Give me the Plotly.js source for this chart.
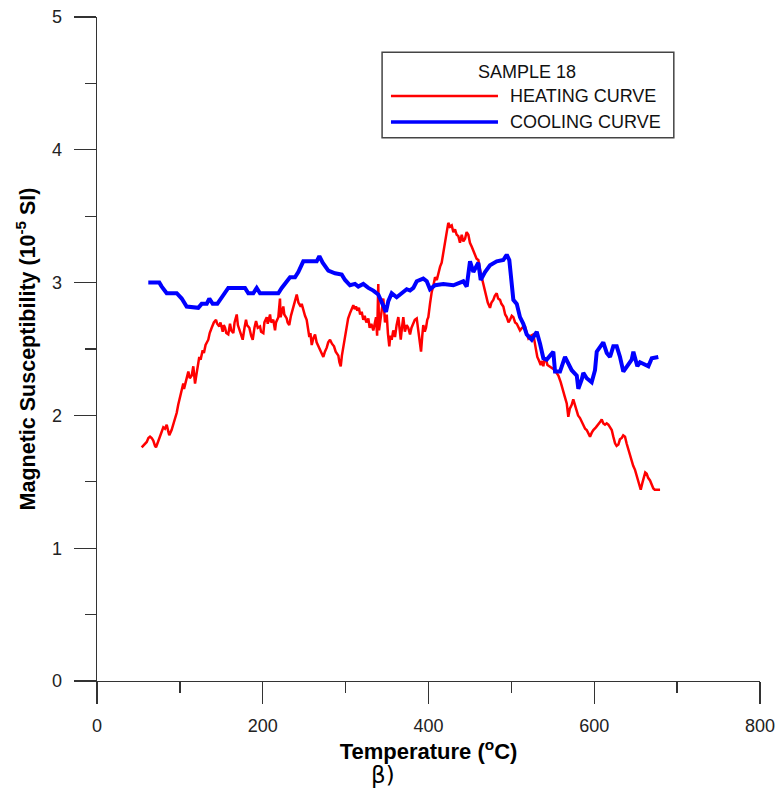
<!DOCTYPE html>
<html>
<head>
<meta charset="utf-8">
<script src="https://cdn.plot.ly/plotly-3.0.1.min.js"></script>
<style>
  html, body { margin: 0; padding: 0; background: #ffffff; }
  #chart { width: 777px; height: 795px; }
</style>
</head>
<body>
<div id="chart"></div>
<script>
// Sample 18: magnetic susceptibility (10^-5 SI) vs temperature (°C)

// Heating curve
const heatT = [
  53.9, 57, 60.0, 62, 64.0, 66, 67.9, 70, 71.2, 73, 76.0, 78, 80.0, 82, 84.1, 86, 87.2, 90, 92.1, 94,
  96.2, 98, 100.2, 102, 104.1, 105, 107.4, 109, 110.2, 112, 114.3, 116.2, 117, 118.3, 120.3, 122, 123.4, 125, 127.5, 129,
  131, 134.3, 136, 138.4, 141, 143.6, 145, 147.6, 149, 151.7, 153, 154.5, 156, 158.4, 160.5, 162, 164.5, 166, 168.6, 170,
  172.6, 174, 175.8, 178, 179.8, 181, 183.8, 186, 187.9, 190, 191.9, 194, 196.7, 198, 200.7, 202, 204.8, 206, 208.8, 210,
  212.7, 214.8, 216, 218.8, 220.8, 221.5, 222.9, 224.8, 226, 228.9, 230, 232.0, 234, 236.9, 239, 241.0, 243, 245.8, 247, 248.9,
  251, 253.0, 254.5, 256.2, 257.5, 259.1, 261, 263.1, 265, 267.0, 269, 271, 273.1, 275, 277.2, 279, 281.2, 283.5, 286.0, 288,
  291.2, 292.5, 294.1, 295.5, 297.2, 299, 301.3, 303, 305.3, 307, 309.3, 311, 312.5, 314.1, 316, 317.5, 319.4, 321.3, 323, 325,
  327.4, 329, 331, 333.4, 335, 336.7, 338, 339.4, 340.3, 341.5, 343.5, 345.5, 347.5, 349.6, 351, 352.7, 354, 355.6, 357.5, 359.6,
  361.5, 363.6, 365, 366.5, 368, 369.6, 371.5, 373.7, 375.5, 377.7, 379.5, 381.7, 383.5, 385.8, 387.7, 389.5, 391.0, 392.5, 393.7, 395.5,
  397.0, 398.5, 399.8, 401.8, 403.9, 406, 407.9, 410, 411.9, 414, 415.9, 418, 419.9, 422, 423.9, 426, 428.0, 430, 432.0, 434,
  436.0, 438, 440.1, 442, 444.1, 446, 448.1, 450, 452.2, 454, 456.1, 458, 460.1, 461.5, 463.0, 465, 466.2, 468, 469.4, 471.5,
  474.2, 476, 478.2, 480, 482.3, 484, 486.3, 488, 490.3, 492.5, 494.4, 496.5, 498.4, 500.5, 502.4, 504.5, 506.5, 508.5, 510.4, 513,
  516.5, 518.5, 520.5, 523.5, 526.5, 529, 531.3, 533.5, 535.4, 537, 538.6, 540, 541.8, 543.5, 545.8, 548, 550.6, 553.5, 556.7, 559.5,
  562.7, 564.5, 566.8, 567.8, 568.7, 570.5, 572.8, 574.7, 576.5, 578.9, 580.5, 582.8, 584.5, 586.8, 589, 590.9, 593, 594.9, 597, 598.9,
  602, 604.9, 607, 609.0, 611, 613.0, 615, 617.0, 619, 621.1, 623, 625.1, 627, 629.1, 631, 633.2, 635, 637.1, 639, 641.1,
  643, 645.2, 647, 649.2, 651, 653.2, 654.5, 656.1, 658, 660.1, 661.5, 663.3, 665, 667.3, 669, 671.3, 673, 675.4, 677, 679.4
];
const heatK = [
  1.76, 1.78, 1.80, 1.83, 1.84, 1.83, 1.81, 1.77, 1.76, 1.79, 1.84, 1.88, 1.91, 1.90, 1.93, 1.88, 1.85, 1.89, 1.93, 1.97,
  2.02, 2.08, 2.14, 2.20, 2.24, 2.20, 2.27, 2.31, 2.33, 2.28, 2.30, 2.37, 2.30, 2.24, 2.32, 2.38, 2.44, 2.42, 2.49, 2.47,
  2.53, 2.57, 2.62, 2.66, 2.70, 2.72, 2.69, 2.67, 2.70, 2.63, 2.68, 2.66, 2.62, 2.61, 2.69, 2.64, 2.62, 2.70, 2.76, 2.68,
  2.63, 2.60, 2.57, 2.66, 2.72, 2.68, 2.66, 2.60, 2.57, 2.66, 2.71, 2.66, 2.67, 2.63, 2.62, 2.70, 2.74, 2.69, 2.76, 2.70,
  2.72, 2.64, 2.70, 2.74, 2.88, 2.74, 2.77, 2.82, 2.76, 2.73, 2.70, 2.68, 2.75, 2.82, 2.87, 2.91, 2.85, 2.82, 2.84, 2.79,
  2.75, 2.72, 2.66, 2.59, 2.62, 2.53, 2.58, 2.61, 2.55, 2.52, 2.50, 2.47, 2.44, 2.48, 2.51, 2.55, 2.57, 2.54, 2.52, 2.48,
  2.45, 2.40, 2.37, 2.45, 2.52, 2.60, 2.67, 2.73, 2.77, 2.80, 2.83, 2.80, 2.82, 2.79, 2.81, 2.76, 2.78, 2.72, 2.75, 2.70,
  2.73, 2.66, 2.69, 2.64, 2.70, 2.74, 2.60, 2.99, 2.64, 2.69, 2.78, 2.88, 2.70, 2.76, 2.62, 2.52, 2.60, 2.57, 2.64, 2.59,
  2.68, 2.74, 2.66, 2.57, 2.66, 2.74, 2.63, 2.68, 2.66, 2.61, 2.66, 2.69, 2.72, 2.73, 2.64, 2.55, 2.48, 2.60, 2.68, 2.63,
  2.66, 2.72, 2.74, 2.84, 2.93, 2.98, 3.04, 3.02, 3.08, 3.12, 3.15, 3.22, 3.30, 3.38, 3.45, 3.42, 3.43, 3.38, 3.40, 3.36,
  3.35, 3.30, 3.36, 3.31, 3.33, 3.38, 3.36, 3.30, 3.27, 3.24, 3.22, 3.18, 3.17, 3.10, 3.07, 3.02, 2.99, 2.93, 2.89, 2.85,
  2.81, 2.85, 2.87, 2.90, 2.92, 2.88, 2.87, 2.84, 2.82, 2.76, 2.74, 2.70, 2.72, 2.75, 2.74, 2.70, 2.69, 2.66, 2.64, 2.66,
  2.67, 2.62, 2.58, 2.60, 2.61, 2.52, 2.44, 2.41, 2.38, 2.41, 2.37, 2.43, 2.42, 2.38, 2.37, 2.36, 2.35, 2.33, 2.30, 2.25,
  2.19, 2.14, 2.09, 2.02, 1.99, 2.05, 2.08, 2.12, 2.08, 2.04, 2.00, 1.98, 1.96, 1.93, 1.90, 1.89, 1.86, 1.84, 1.87, 1.89,
  1.91, 1.93, 1.95, 1.97, 1.94, 1.93, 1.94, 1.93, 1.91, 1.89, 1.84, 1.79, 1.77, 1.78, 1.82, 1.83, 1.85, 1.84, 1.79, 1.74,
  1.70, 1.66, 1.62, 1.59, 1.55, 1.51, 1.47, 1.44, 1.49, 1.54, 1.57, 1.56, 1.53, 1.51, 1.48, 1.45, 1.44, 1.44, 1.44, 1.44
];

// Cooling curve
const coolT = [
  61.9, 75.2, 78.1, 84.1, 96.2, 102.2, 108.2, 122.2, 126.3, 132.4, 135.5, 139.6, 145.2, 150.5, 158.4, 178.6, 182.6, 188.6, 192.7, 196.7,
  218.8, 222.9, 228.9, 232.9, 238.9, 242.9, 248.9, 265.1, 268.3, 272.3, 279.1, 287.2, 295.3, 299.3, 305.3, 311.3, 315.3, 321.3, 327.4, 333.4,
  339.4, 345.5, 348.7, 351.5, 355.6, 361.6, 367.7, 373.7, 377.7, 381.7, 385.8, 393.7, 397.9, 401.8, 407.9, 417.9, 430.0, 442.0, 446.1, 450.1,
  454.1, 460.1, 463.0, 468.2, 474.2, 482.3, 490.3, 494.4, 497.5, 500.4, 502.4, 506.5, 510.4, 514.4, 518.5, 524.6, 530.6, 534.6, 538.6, 542.7,
  546.6, 550.6, 552.7, 558.7, 564.7, 568.7, 572.8, 578.9, 580.8, 584.9, 586.8, 590.9, 596.9, 600.9, 603.0, 610.9, 615.1, 619.0, 623.0, 627.1,
  631.1, 635.1, 641.1, 645.2, 647.2, 652.0, 655.2, 661.3, 665.3, 669.4, 677.3
];
const coolK = [
  3.00, 3.00, 2.97, 2.92, 2.92, 2.88, 2.82, 2.81, 2.84, 2.84, 2.88, 2.84, 2.84, 2.89, 2.96, 2.96, 2.92, 2.92, 2.96, 2.92,
  2.92, 2.96, 3.01, 3.04, 3.04, 3.08, 3.16, 3.16, 3.20, 3.15, 3.09, 3.07, 3.06, 3.02, 2.98, 2.99, 2.97, 2.99, 2.96, 2.94,
  2.91, 2.82, 2.78, 2.86, 2.92, 2.89, 2.92, 2.95, 2.94, 2.96, 3.01, 3.03, 3.01, 2.95, 2.98, 2.99, 2.98, 3.01, 2.97, 3.16,
  3.08, 3.15, 3.02, 3.08, 3.13, 3.16, 3.17, 3.21, 3.17, 3.01, 2.87, 2.84, 2.74, 2.69, 2.61, 2.57, 2.63, 2.54, 2.43, 2.42,
  2.45, 2.48, 2.33, 2.33, 2.44, 2.39, 2.34, 2.30, 2.20, 2.27, 2.32, 2.28, 2.25, 2.34, 2.48, 2.55, 2.47, 2.44, 2.52, 2.52,
  2.44, 2.33, 2.39, 2.42, 2.48, 2.37, 2.40, 2.38, 2.37, 2.43, 2.44
];

const legendTitle = 'SAMPLE 18';
const heatName = 'HEATING CURVE';
const coolName = 'COOLING CURVE';

const FONT = '"Liberation Sans", Arial, sans-serif';
const AXIS = '#333333';
const RED = '#ff0000';
const BLUE = '#0000ff';

const traces = [
  { x: heatT, y: heatK, type: 'scatter', mode: 'lines', name: heatName,
    line: { color: RED, width: 2.5 }, showlegend: false },
  { x: coolT, y: coolK, type: 'scatter', mode: 'lines', name: coolName,
    line: { color: BLUE, width: 4 }, showlegend: false }
];

// Legend box drawn in paper coordinates
const box = { x0: 0.430, x1: 0.870, y0: 0.818, y1: 0.947 };
const sample = { x0: 0.4434, x1: 0.6048 };
const rowHeat = 0.881, rowCool = 0.842, rowTitle = 0.917;
const textX = 0.620;

const layout = {
  width: 777, height: 795,
  margin: { l: 97, r: 17, t: 17, b: 114 },
  paper_bgcolor: '#ffffff', plot_bgcolor: '#ffffff',
  font: { family: FONT, color: '#222222', size: 18 },
  showlegend: false,
  xaxis: {
    range: [0, 800], tick0: 0, dtick: 200,
    showgrid: false, zeroline: false,
    showline: true, linecolor: AXIS, linewidth: 1.3,
    ticks: 'outside', ticklen: 22, tickwidth: 1.3, tickcolor: AXIS,
    ticklabelstandoff: 6,
    tickfont: { family: FONT, size: 18, color: '#222222' },
    minor: { dtick: 100, ticks: 'outside', ticklen: 11, tickwidth: 1.3, tickcolor: AXIS, showgrid: false },
    title: { text: '<b>Temperature (<sup>o</sup>C)</b>', standoff: 0,
             font: { family: FONT, size: 22, color: '#000000' } },
    fixedrange: true
  },
  yaxis: {
    range: [0, 5], tick0: 0, dtick: 1,
    showgrid: false, zeroline: false,
    showline: true, linecolor: AXIS, linewidth: 1.3,
    ticks: 'outside', ticklen: 22, tickwidth: 1.3, tickcolor: AXIS,
    ticklabelstandoff: 8,
    tickfont: { family: FONT, size: 18, color: '#222222' },
    minor: { dtick: 0.5, ticks: 'outside', ticklen: 11, tickwidth: 1.3, tickcolor: AXIS, showgrid: false },
    title: { text: '<b>Magnetic Susceptibility (10<sup>-5</sup> SI)</b>', standoff: 10,
             font: { family: FONT, size: 21.5, color: '#000000' } },
    fixedrange: true
  },
  shapes: [
    { type: 'rect', xref: 'paper', yref: 'paper', x0: box.x0, x1: box.x1, y0: box.y0, y1: box.y1,
      line: { color: '#444444', width: 1.5 }, fillcolor: 'rgba(255,255,255,0)' },
    { type: 'line', xref: 'paper', yref: 'paper', x0: sample.x0, x1: sample.x1, y0: rowHeat, y1: rowHeat,
      line: { color: RED, width: 2.5 } },
    { type: 'line', xref: 'paper', yref: 'paper', x0: sample.x0, x1: sample.x1, y0: rowCool, y1: rowCool,
      line: { color: BLUE, width: 3.5 } }
  ],
  annotations: [
    { xref: 'paper', yref: 'paper', x: 0.6486, y: rowTitle, text: legendTitle, showarrow: false,
      xanchor: 'center', yanchor: 'middle', font: { family: FONT, size: 18, color: '#111111' } },
    { xref: 'paper', yref: 'paper', x: textX, y: rowHeat, text: heatName, showarrow: false,
      xanchor: 'left', yanchor: 'middle', font: { family: FONT, size: 18, color: '#111111' } },
    { xref: 'paper', yref: 'paper', x: textX, y: rowCool, text: coolName, showarrow: false,
      xanchor: 'left', yanchor: 'middle', font: { family: FONT, size: 18, color: '#111111' } },
    { xref: 'paper', yref: 'paper', x: 0.431, y: -0.1416, text: 'β)', showarrow: false,
      xanchor: 'center', yanchor: 'middle', font: { family: '"DejaVu Sans", sans-serif', size: 23, color: '#000000' } }
  ]
};

Plotly.newPlot('chart', traces, layout, { displayModeBar: false, staticPlot: true });
</script>
</body>
</html>
